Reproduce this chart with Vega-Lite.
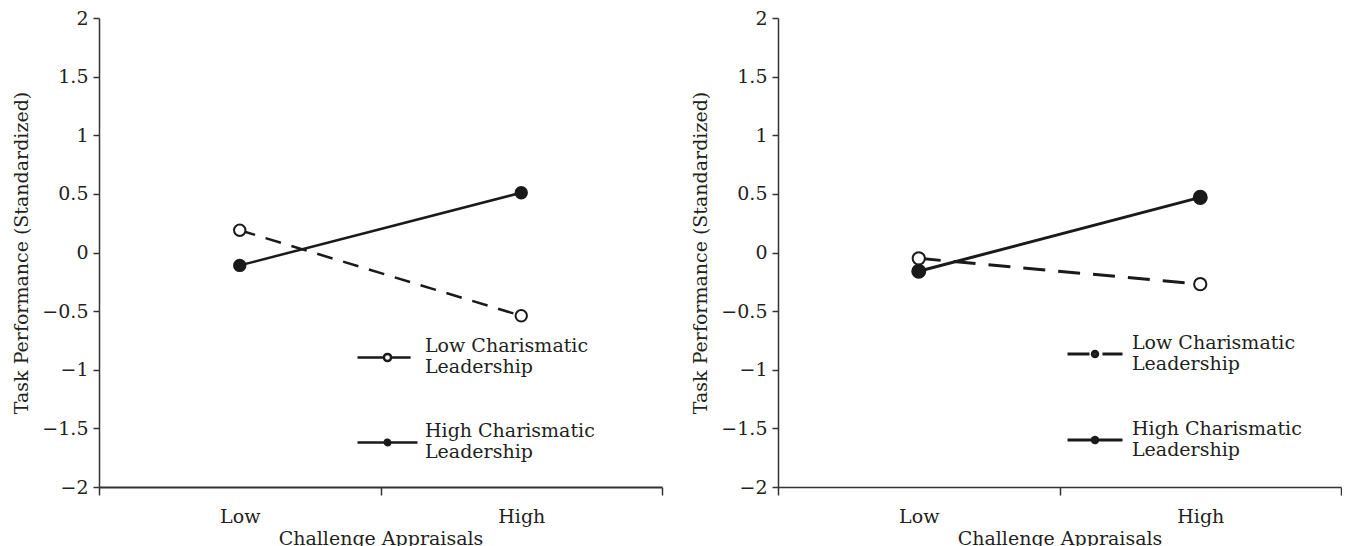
{
  "$schema": "https://vega.github.io/schema/vega-lite/v6.json",
  "background": "white",
  "padding": {"left": 12, "top": 9, "right": 0, "bottom": 0},
  "datasets": {
    "left": [
      {"appraisal": "Low", "leadership": "Low Charismatic Leadership", "value": 0.19},
      {"appraisal": "High", "leadership": "Low Charismatic Leadership", "value": -0.54},
      {"appraisal": "Low", "leadership": "High Charismatic Leadership", "value": -0.11},
      {"appraisal": "High", "leadership": "High Charismatic Leadership", "value": 0.51}
    ],
    "right": [
      {"appraisal": "Low", "leadership": "Low Charismatic Leadership", "value": -0.05},
      {"appraisal": "High", "leadership": "Low Charismatic Leadership", "value": -0.27},
      {"appraisal": "Low", "leadership": "High Charismatic Leadership", "value": -0.16},
      {"appraisal": "High", "leadership": "High Charismatic Leadership", "value": 0.47}
    ]
  },
  "config": {
    "font": "DejaVu Serif",
    "view": {"stroke": null},
    "axis": {
      "labelFont": "DejaVu Serif",
      "labelFontSize": 19,
      "labelColor": "#231f20",
      "titleFont": "DejaVu Serif",
      "titleFontSize": 19,
      "titleFontWeight": "normal",
      "titleColor": "#231f20",
      "grid": false,
      "domainColor": "#333333",
      "tickColor": "#333333",
      "domainWidth": 1.5,
      "tickWidth": 1.5
    },
    "legend": {
      "labelFont": "DejaVu Serif",
      "labelFontSize": 19,
      "labelColor": "#231f20",
      "labelLimit": 300
    },
    "concat": {"spacing": 28}
  },
  "hconcat": [
    {
      "width": 563,
      "height": 469,
      "data": {"name": "left"},
      "encoding": {
        "x": {
          "field": "appraisal", "type": "nominal", "sort": ["Low", "High"],
          "scale": {"paddingInner": 0, "paddingOuter": 0},
          "axis": {"title": "Challenge Appraisals", "labelAngle": 0, "tickBand": "extent", "tickSize": 8, "labelPadding": 12, "titlePadding": 3, "domainWidth": 2}
        },
        "y": {
          "field": "value", "type": "quantitative",
          "scale": {"domain": [-2, 2], "nice": false, "zero": false},
          "axis": {"title": "Task Performance (Standardized)", "values": [-2, -1.5, -1, -0.5, 0, 0.5, 1, 1.5, 2], "format": "~g", "tickSize": 6, "labelPadding": 5, "titlePadding": 10}
        }
      },
      "layer": [
        {
          "transform": [{"filter": "datum.leadership == 'Low Charismatic Leadership'"}],
          "mark": {"type": "line", "color": "#1a1a1a", "strokeWidth": 2.5, "strokeDash": [16, 11]}
        },
        {
          "transform": [{"filter": "datum.leadership == 'High Charismatic Leadership'"}],
          "mark": {"type": "line", "color": "#1a1a1a", "strokeWidth": 2.5}
        },
        {
          "transform": [{"filter": "datum.leadership == 'Low Charismatic Leadership'"}],
          "mark": {"type": "point", "filled": true, "fill": "white", "stroke": "#1a1a1a", "strokeWidth": 2, "size": 130, "opacity": 1}
        },
        {
          "transform": [{"filter": "datum.leadership == 'High Charismatic Leadership'"}],
          "mark": {"type": "point", "filled": true, "fill": "#1a1a1a", "stroke": "#1a1a1a", "strokeWidth": 2, "size": 130, "opacity": 1}
        },
        {
          "transform": [{"filter": "false"}],
          "mark": {"type": "point", "filled": false, "color": "#1a1a1a", "strokeWidth": 2.5, "opacity": 1},
          "encoding": {
            "shape": {
              "field": "leadership", "type": "nominal",
              "scale": {
                "domain": ["Low Charismatic Leadership", "High Charismatic Leadership"],
                "range": [
                  "M-1,0.4H-0.12M0.12,0.4H0.77M-0.12,0.4A0.12,0.12,0,1,1,0.12,0.4A0.12,0.12,0,1,1,-0.12,0.4Z",
                  "M-1,0.4H1M-0.09,0.4A0.09,0.09,0,1,1,0.09,0.4A0.09,0.09,0,1,1,-0.09,0.4ZM-0.04,0.4A0.04,0.04,0,1,1,0.04,0.4A0.04,0.04,0,1,1,-0.04,0.4Z"
                ]
              },
              "legend": {
                "title": null, "orient": "none", "legendX": 257, "legendY": 296, "padding": 0,
                "symbolSize": 3600, "symbolStrokeWidth": 2.5, "symbolStrokeColor": "#1a1a1a",
                "labelOffset": 6,
                "labelExpr": "[replace(datum.label, ' Leadership', ''), 'Leadership']",
                "rowPadding": 22
              }
            }
          }
        }
      ]
    },
    {
      "width": 563,
      "height": 469,
      "data": {"name": "right"},
      "encoding": {
        "x": {
          "field": "appraisal", "type": "nominal", "sort": ["Low", "High"],
          "scale": {"paddingInner": 0, "paddingOuter": 0},
          "axis": {"title": "Challenge Appraisals", "labelAngle": 0, "tickBand": "extent", "tickSize": 8, "labelPadding": 12, "titlePadding": 3}
        },
        "y": {
          "field": "value", "type": "quantitative",
          "scale": {"domain": [-2, 2], "nice": false, "zero": false},
          "axis": {"title": "Task Performance (Standardized)", "values": [-2, -1.5, -1, -0.5, 0, 0.5, 1, 1.5, 2], "format": "~g", "tickSize": 6, "labelPadding": 5, "titlePadding": 10}
        }
      },
      "layer": [
        {
          "transform": [{"filter": "datum.leadership == 'Low Charismatic Leadership'"}],
          "mark": {"type": "line", "color": "#1a1a1a", "strokeWidth": 3, "strokeDash": [22, 13]}
        },
        {
          "transform": [{"filter": "datum.leadership == 'High Charismatic Leadership'"}],
          "mark": {"type": "line", "color": "#1a1a1a", "strokeWidth": 3}
        },
        {
          "transform": [{"filter": "datum.leadership == 'Low Charismatic Leadership'"}],
          "mark": {"type": "point", "filled": true, "fill": "white", "stroke": "#1a1a1a", "strokeWidth": 2, "size": 150, "opacity": 1}
        },
        {
          "transform": [{"filter": "datum.leadership == 'High Charismatic Leadership'"}],
          "mark": {"type": "point", "filled": true, "fill": "#1a1a1a", "stroke": "#1a1a1a", "strokeWidth": 2, "size": 170, "opacity": 1}
        },
        {
          "transform": [{"filter": "false"}],
          "mark": {"type": "line", "color": "#1a1a1a", "strokeWidth": 3},
          "encoding": {
            "strokeDash": {
              "field": "leadership", "type": "nominal",
              "scale": {"domain": ["High Charismatic Leadership", "Low Charismatic Leadership"], "range": [[1, 0], [22, 13]]},
              "legend": {
                "title": null, "orient": "none", "legendX": 967, "legendY": 296, "padding": 0,
                "values": ["Low Charismatic Leadership", "High Charismatic Leadership"],
                "symbolType": "M-1,0.4H1M-0.1,0.4A0.1,0.1,0,1,1,0.1,0.4A0.1,0.1,0,1,1,-0.1,0.4ZM-0.04,0.4A0.04,0.04,0,1,1,0.04,0.4A0.04,0.04,0,1,1,-0.04,0.4Z",
                "symbolSize": 3025, "symbolStrokeWidth": 3, "symbolStrokeColor": "#1a1a1a",
                "labelOffset": 8,
                "labelExpr": "[replace(datum.label, ' Leadership', ''), 'Leadership']",
                "rowPadding": 26
              }
            }
          }
        }
      ]
    }
  ]
}
